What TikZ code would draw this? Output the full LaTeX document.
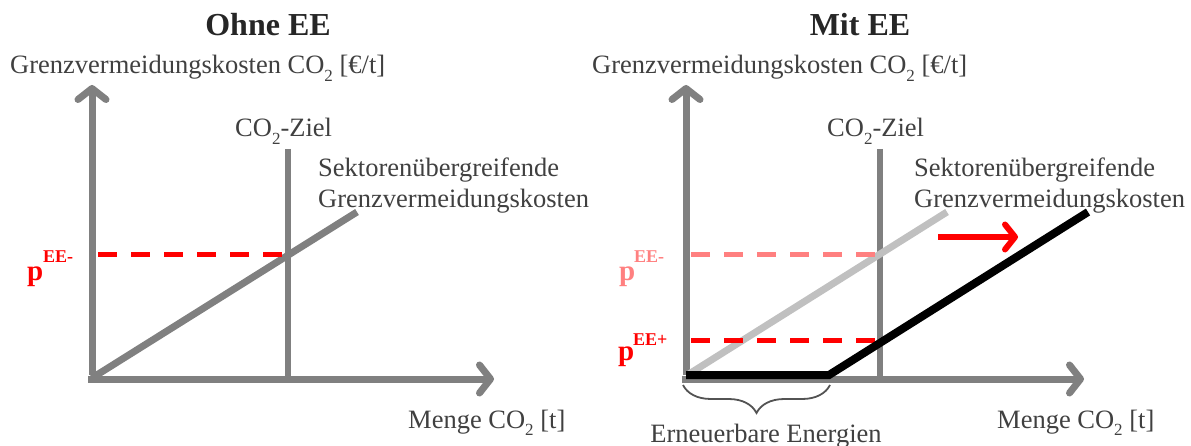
\documentclass[tikz,border=0pt]{standalone}
\usepackage{fontspec}
\setmainfont{Liberation Serif}
\usetikzlibrary{arrows.meta,decorations.pathreplacing}
\definecolor{axisgray}{HTML}{808080}
\definecolor{txtgray}{HTML}{404040}
\definecolor{oldcurve}{HTML}{C0C0C0}
\definecolor{paleRed}{HTML}{FF8080}
\definecolor{eeRed}{HTML}{FF0000}

% lowered subscript digit as used in "CO2"
\newcommand{\lowtwo}{\raisebox{-7.5pt}{\fontsize{17}{17}\selectfont 2}}

\tikzset{
  axisline/.style={draw=axisgray, line width=7pt,
    -{Straight Barb[length=11pt,width=28pt,round]}},
  targetline/.style={draw=axisgray, line width=6pt},
  costline/.style={line width=7pt, line cap=butt},
  priceline/.style={line width=5pt, dash pattern=on 19pt off 14pt},
  lbl/.style={text=txtgray, font=\fontsize{26.5}{31}\selectfont, inner sep=0pt},
  headline/.style={text=black!85, font=\bfseries\fontsize{32}{36}\selectfont, inner sep=0pt},
  pmain/.style={font=\bfseries\fontsize{29}{30}\selectfont, inner sep=0pt, anchor=base west},
  psup/.style={font=\bfseries\fontsize{18}{18}\selectfont, inner sep=0pt, anchor=base west},
  shiftarrow/.style={draw=eeRed, line width=6pt,
    -{Straight Barb[length=10pt,width=25pt,round]}},
  eebrace/.style={draw=txtgray!90, line width=1.8pt,
    decorate, decoration={brace, amplitude=28pt}}
}

\begin{document}
\begin{tikzpicture}[x=1pt,y=-1pt]
\useasboundingbox (0,0) rectangle (1191,446);

% ---------------- left panel: without renewables ----------------
\node[headline, anchor=base] (t1) at (268,36) {Ohne EE};
\node[lbl, anchor=base west] (yl1) at (10,74) {Grenzvermeidungskosten CO\lowtwo{} [€/t]};
\node[lbl, anchor=base west] (xl1) at (408,428) {Menge CO\lowtwo{} [t]};
\node[lbl, anchor=base west] (z1) at (235,137) {CO\lowtwo-Ziel};
\node[lbl, anchor=base west, align=left] (s1) at (318,208)
  {Sektorenübergreifende\\Grenzvermeidungskosten};

\coordinate (o1) at (92,379);
\coordinate (ytop1) at (92,85);
\coordinate (xend1) at (494,379);
\coordinate (zt1) at (288,149);
\coordinate (zb1) at (288,379);
\coordinate (c1s) at (92,378);
\coordinate (c1e) at (357,212);
\coordinate (p1s) at (98,255);
\coordinate (p1e) at (284,255);

\draw[targetline] (zt1) -- (zb1);
\draw[axisline] ([yshift=4pt]o1) -- (ytop1);
\draw[axisline] ([xshift=-4pt]o1) -- (xend1);
\draw[costline, draw=axisgray] (c1s) -- (c1e);
\draw[priceline, draw=eeRed] (p1s) -- (p1e);

\node[pmain, text=eeRed] (pa) at (27,280) {p};
\node[psup, text=eeRed] (pas) at (43,263) {EE-};

% ---------------- right panel: with renewables ----------------
\node[headline, anchor=base] (t2) at (860,36) {Mit EE};
\node[lbl, anchor=base west] (yl2) at (592,74) {Grenzvermeidungskosten CO\lowtwo{} [€/t]};
\node[lbl, anchor=base west] (xl2) at (997,428) {Menge CO\lowtwo{} [t]};
\node[lbl, anchor=base west] (z2) at (827,137) {CO\lowtwo-Ziel};
\node[lbl, anchor=base west, align=left] (s2) at (914,208)
  {Sektorenübergreifende\\Grenzvermeidungskosten};
\node[lbl, anchor=base] (ee) at (766,442) {Erneuerbare Energien};

\coordinate (o2) at (686,379);
\coordinate (ytop2) at (686,85);
\coordinate (xend2) at (1084,379);
\coordinate (zt2) at (880,149);
\coordinate (zb2) at (880,379);
\coordinate (c2s) at (689,374);
\coordinate (c2e) at (947,212);
\coordinate (k0) at (686,375);
\coordinate (k1) at (829,375);
\coordinate (k2) at (1088,212);
\coordinate (pm2s) at (691,255);
\coordinate (pm2e) at (877,255);
\coordinate (pp2s) at (691,340);
\coordinate (pp2e) at (877,340);
\coordinate (ar0) at (938,237);
\coordinate (ar1) at (1018,237);
\coordinate (b0) at (683,385);
\coordinate (b1) at (830,385);

\draw[targetline] (zt2) -- (zb2);
\draw[axisline] ([yshift=4pt]o2) -- (ytop2);
\draw[axisline] ([xshift=-4pt]o2) -- (xend2);
\draw[costline, draw=oldcurve] (c2s) -- (c2e);
\draw[priceline, draw=paleRed] (pm2s) -- (pm2e);
\draw[priceline, draw=eeRed] (pp2s) -- (pp2e);
\draw[costline, draw=black, line width=8pt, line join=miter] (k0) -- (k1) -- (k2);
\draw[shiftarrow] (ar0) -- (ar1);
\draw[eebrace] (b1) -- (b0);

\node[pmain, text=paleRed] (pb) at (619,280) {p};
\node[psup, text=paleRed] (pbs) at (634,263) {EE-};
\node[pmain, text=eeRed] (pc) at (618,360) {p};
\node[psup, text=eeRed] (pcs) at (633,345) {EE+};
\end{tikzpicture}
\end{document}
